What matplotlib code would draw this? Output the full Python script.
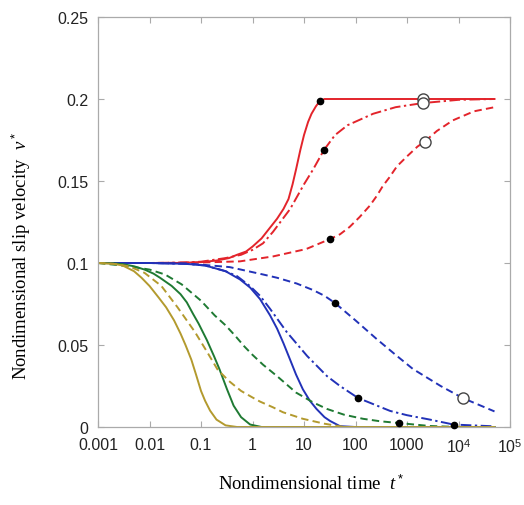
import numpy as np
import matplotlib
matplotlib.use("Agg")
import matplotlib.pyplot as plt

plt.rcParams["mathtext.fontset"] = "custom"
plt.rcParams["mathtext.rm"] = "Liberation Sans"
plt.rcParams["mathtext.it"] = "Liberation Serif:italic"

## slip velocity histories, one list of times and one of values per curve
t_red_solid = [0.001, 0.01, 0.03, 0.05, 0.1, 0.2, 0.35, 0.5, 0.75, 1, 1.5, 2, 3, 4, 5, 6, 7,
               8.5, 10, 12, 14, 17, 20, 25, 100, 1000, 5e4]
v_red_solid = [0.1, 0.1, 0.1, 0.1002, 0.1005, 0.1015, 0.103, 0.105, 0.107, 0.110, 0.115,
               0.120, 0.127, 0.133, 0.139, 0.148, 0.157, 0.169, 0.178, 0.186, 0.191, 0.1955,
               0.1985, 0.2, 0.2, 0.2, 0.2]

t_red_dashdot = [0.001, 0.01, 0.05, 0.1, 0.3, 0.6, 1, 1.6, 2.5, 5.4, 10, 15, 24.5, 40, 70,
                 220, 600, 2000, 1e4, 5e4]
v_red_dashdot = [0.1, 0.1, 0.1003, 0.1008, 0.103, 0.105, 0.108, 0.112, 0.119, 0.133, 0.148,
                 0.157, 0.169, 0.178, 0.184, 0.191, 0.195, 0.1975, 0.1995, 0.2]

t_red_dashed = [0.001, 0.01, 0.1, 0.57, 2.5, 11, 32, 50, 77, 120, 190, 260, 340, 450, 640,
                1000, 1600, 2200, 3800, 7800, 2e4, 5e4]
v_red_dashed = [0.1, 0.1, 0.1003, 0.101, 0.104, 0.1085, 0.1146, 0.1175, 0.122, 0.128, 0.135,
                0.141, 0.147, 0.152, 0.159, 0.165, 0.171, 0.174, 0.1805, 0.187, 0.1925, 0.195]

t_blue_solid = [0.001, 0.01, 0.05, 0.12, 0.3, 0.57, 0.9, 1.4, 2.2, 3.0, 4.0, 5.3, 7, 9.5,
                13, 17.5, 25, 32, 50, 100, 5e4]
v_blue_solid = [0.1, 0.1, 0.0995, 0.0985, 0.095, 0.090, 0.085, 0.078, 0.068, 0.060, 0.051,
                0.0415, 0.032, 0.023, 0.016, 0.011, 0.006, 0.0037, 0.0005, 0.0, 0.0]

t_blue_dashdot = [0.001, 0.01, 0.05, 0.12, 0.3, 0.5, 0.89, 1.4, 2.2, 4.6, 11.5, 28, 50, 112,
                  470, 1000, 2800, 8000, 5e4]
v_blue_dashdot = [0.1, 0.1, 0.0995, 0.0985, 0.095, 0.092, 0.086, 0.080, 0.072, 0.058, 0.0433,
                  0.031, 0.025, 0.0177, 0.0098, 0.0072, 0.0045, 0.0015, 0.0004]

t_blue_dashed = [0.001, 0.01, 0.05, 0.1, 0.36, 1.6, 3, 7.2, 15, 25, 40, 100, 250, 600, 1300,
                 4500, 1.2e4, 5e4]
v_blue_dashed = [0.1, 0.1, 0.0997, 0.099, 0.0975, 0.093, 0.091, 0.0875, 0.0835, 0.080,
                 0.0756, 0.065, 0.054, 0.044, 0.0354, 0.025, 0.0177, 0.0095]

t_green_solid = [0.001, 0.002, 0.003, 0.005, 0.008, 0.012, 0.016, 0.027, 0.04, 0.053, 0.07,
                 0.09, 0.13, 0.18, 0.23, 0.32, 0.43, 0.6, 0.9, 1.5, 5e4]
v_green_solid = [0.1, 0.0998, 0.0993, 0.098, 0.096, 0.0935, 0.091, 0.086, 0.081, 0.076, 0.069,
                 0.063, 0.053, 0.043, 0.035, 0.023, 0.013, 0.006, 0.0015, 0.0, 0.0]

t_green_dashed = [0.001, 0.004, 0.01, 0.02, 0.042, 0.1, 0.185, 0.3, 0.45, 0.7, 1.0, 1.6, 3, 7,
                  15, 28, 60, 140, 300, 700, 2800, 1e4, 5e4]
v_green_dashed = [0.1, 0.098, 0.096, 0.093, 0.087, 0.077, 0.068, 0.062, 0.056, 0.049, 0.044,
                  0.038, 0.031, 0.021, 0.015, 0.011, 0.0075, 0.005, 0.0035, 0.0024, 0.0006,
                  0.0, 0.0]

t_gold_solid = [0.001, 0.002, 0.003, 0.005, 0.007, 0.01, 0.015, 0.021, 0.03, 0.04, 0.05,
                0.065, 0.08, 0.1, 0.12, 0.15, 0.2, 0.3, 0.5, 5e4]
v_gold_solid = [0.1, 0.0995, 0.0985, 0.095, 0.091, 0.086, 0.079, 0.073, 0.065, 0.057, 0.050,
                0.041, 0.032, 0.022, 0.016, 0.010, 0.0045, 0.001, 0.0, 0.0]

t_gold_dashed = [0.001, 0.002, 0.004, 0.008, 0.017, 0.035, 0.076, 0.13, 0.21, 0.35, 0.6, 1,
                 1.4, 2.5, 3.9, 9.5, 25, 60, 5e4]
v_gold_dashed = [0.1, 0.0995, 0.098, 0.094, 0.086, 0.073, 0.058, 0.046, 0.035, 0.028, 0.022,
                 0.018, 0.0155, 0.012, 0.009, 0.005, 0.002, 0.0, 0.0]

## marked states along the curves
t_dots = [20, 24.5, 32, 40, 112, 700, 8000]
v_dots = [0.1985, 0.169, 0.1146, 0.0756, 0.0177, 0.0024, 0.0012]
t_rings = [2000, 2000, 2200, 1.2e4]
v_rings = [0.2, 0.1975, 0.174, 0.0177]

x_ticks = [0.001, 0.01, 0.1, 1, 10, 100, 1000, 1e4, 1e5]
x_ticklabels = ["0.001", "0.01", "0.1", "1", "10", "100", "1000", "$10^4$", "$10^5$"]
y_ticks = [0, 0.05, 0.1, 0.15, 0.2, 0.25]
y_ticklabels = ["0", "0.05", "0.1", "0.15", "0.2", "0.25"]

red, blue, green, gold = "#e3242b", "#2232b8", "#1f7a33", "#b39a2e"
dashed = (0, (3.8, 2.2))
dashdot = (0, (5.5, 1.8, 1.2, 1.8))

fig = plt.figure(figsize=(5.24, 5.06), dpi=100)
ax = fig.add_axes([98 / 524, 1 - 428 / 506, 412 / 524, 410 / 506])

lw = 1.4
ax.plot(t_red_dashed, v_red_dashed, color=red, lw=lw, ls=dashed)
ax.plot(t_red_dashdot, v_red_dashdot, color=red, lw=lw, ls=dashdot)
ax.plot(t_red_solid, v_red_solid, color=red, lw=lw)
ax.plot(t_blue_dashed, v_blue_dashed, color=blue, lw=lw, ls=dashed)
ax.plot(t_blue_dashdot, v_blue_dashdot, color=blue, lw=lw, ls=dashdot)
ax.plot(t_blue_solid, v_blue_solid, color=blue, lw=lw)
ax.plot(t_green_dashed, v_green_dashed, color=green, lw=lw, ls=dashed)
ax.plot(t_green_solid, v_green_solid, color=green, lw=lw)
ax.plot(t_gold_dashed, v_gold_dashed, color=gold, lw=lw, ls=dashed)
ax.plot(t_gold_solid, v_gold_solid, color=gold, lw=lw)

ax.plot(t_dots, v_dots, "o", color="black", ms=4.5, zorder=5, clip_on=False)
ax.plot(t_rings, v_rings, "o", mfc="white", mec="#444444", mew=1.0, ms=8, zorder=6)

ax.set_xscale("log")
ax.set_xlim(0.001, 1e5)
ax.set_ylim(0, 0.25)
ax.set_xticks(x_ticks)
ax.set_xticklabels(x_ticklabels)
ax.set_yticks(y_ticks)
ax.set_yticklabels(y_ticklabels)
ax.minorticks_off()

for lab in ax.get_xticklabels() + ax.get_yticklabels():
    lab.set_fontfamily("Liberation Sans")
ax.tick_params(direction="in", length=4, width=0.8, color="#aaaaaa", labelsize=11.5,
               labelcolor="#222222", top=True, right=True)
ax.tick_params(axis="x", pad=7)
ax.tick_params(axis="y", pad=7)
for s in ax.spines.values():
    s.set_color("#aaaaaa")
    s.set_linewidth(0.9)

fig.text(311 / 524, 1 - 484 / 506, "Nondimensional time  $t^*$", ha="center", va="center",
         fontsize=13.5, family="Liberation Serif")
fig.text(21 / 524, 1 - 256 / 506, "Nondimensional slip velocity  $v^*$", ha="center",
         va="center", rotation=90, fontsize=13.5, family="Liberation Serif")

fig.savefig("out.png", dpi=100)
